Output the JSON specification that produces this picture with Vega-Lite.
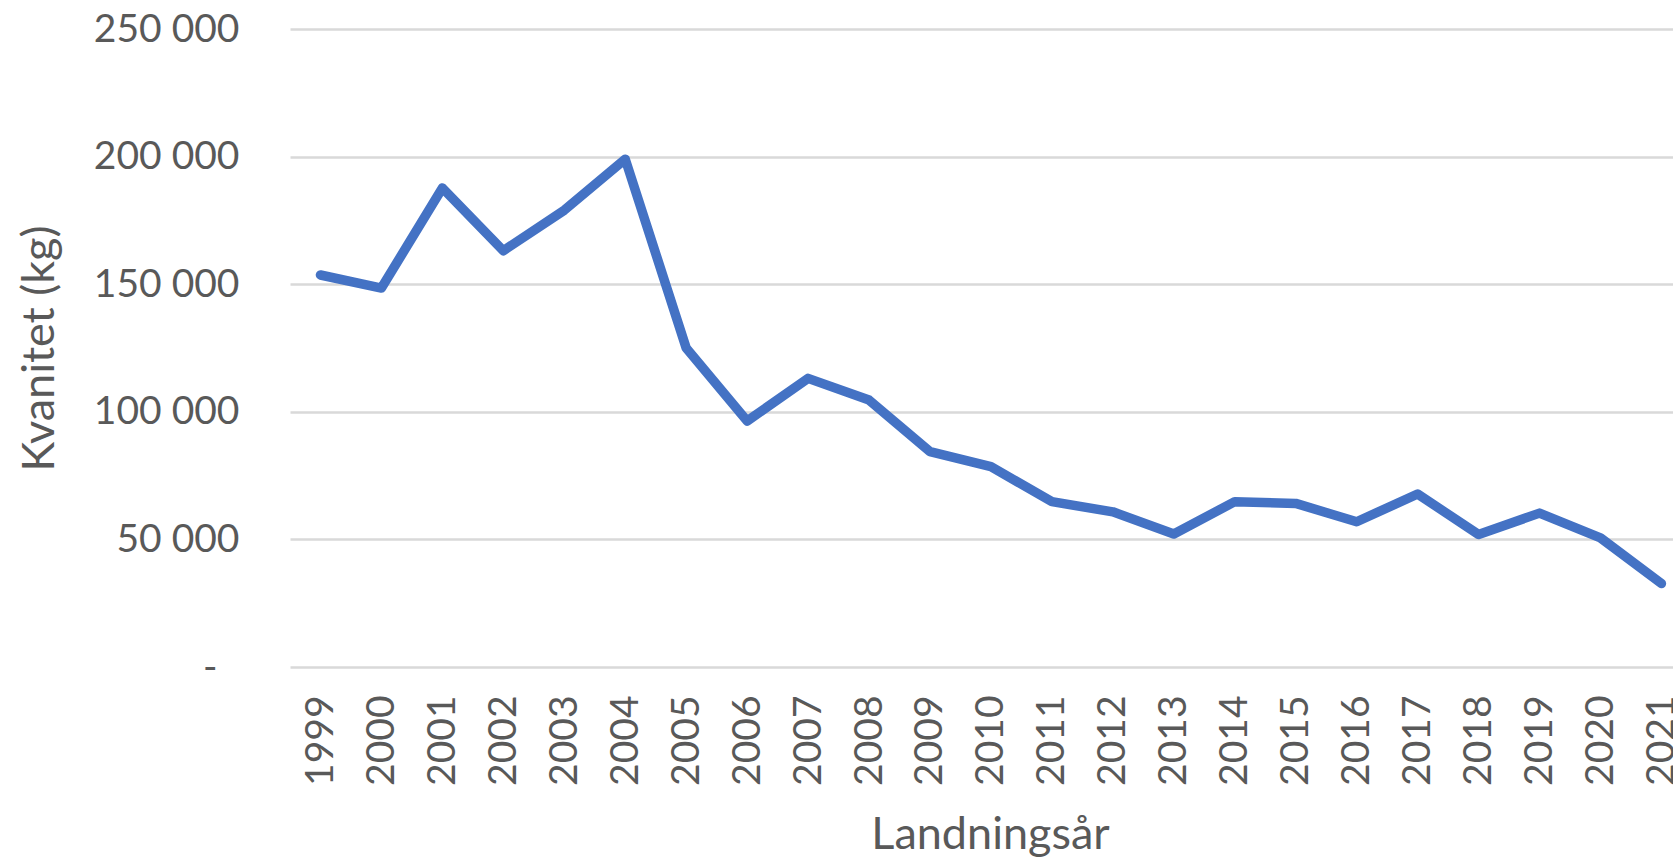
{
  "$schema": "https://vega.github.io/schema/vega-lite/v6.json",
  "autosize": "none",
  "width": 1383,
  "height": 638,
  "padding": {"left": 290, "top": 29, "right": 0, "bottom": 193},
  "background": "white",
  "config": {"view": {"stroke": null}},
  "data": {"values": [
    {"year": 1999, "kg": 153600},
    {"year": 2000, "kg": 148500},
    {"year": 2001, "kg": 187700},
    {"year": 2002, "kg": 163100},
    {"year": 2003, "kg": 179000},
    {"year": 2004, "kg": 199000},
    {"year": 2005, "kg": 125000},
    {"year": 2006, "kg": 96400},
    {"year": 2007, "kg": 113100},
    {"year": 2008, "kg": 104600},
    {"year": 2009, "kg": 84400},
    {"year": 2010, "kg": 78500},
    {"year": 2011, "kg": 64800},
    {"year": 2012, "kg": 60800},
    {"year": 2013, "kg": 52100},
    {"year": 2014, "kg": 64800},
    {"year": 2015, "kg": 64100},
    {"year": 2016, "kg": 56900},
    {"year": 2017, "kg": 67800},
    {"year": 2018, "kg": 51900},
    {"year": 2019, "kg": 60300},
    {"year": 2020, "kg": 50600},
    {"year": 2021, "kg": 32700}
  ]},
  "mark": {"type": "line", "color": "#4472c4", "strokeWidth": 9.5, "strokeCap": "round", "strokeJoin": "round"},
  "encoding": {
    "x": {
      "field": "year",
      "type": "quantitative",
      "scale": {"domain": [1998.5, 2021.19], "nice": false, "zero": false},
      "axis": {
        "values": [1999,2000,2001,2002,2003,2004,2005,2006,2007,2008,2009,2010,2011,2012,2013,2014,2015,2016,2017,2018,2019,2020,2021],
        "format": "d",
        "labelAngle": -90,
        "labelPadding": 28,
        "ticks": false,
        "tickSize": 0,
        "domain": false,
        "grid": false,
        "labelFont": "Lato",
        "labelFontSize": 39,
        "labelColor": "#595959",
        "labelOverlap": false,
        "labelFlush": false,
        "title": "Landningsår",
        "titleFont": "Lato",
        "titleFontSize": 45,
        "titleFontWeight": "normal",
        "titleColor": "#595959",
        "titleBaseline": "alphabetic",
        "titleAlign": "center",
        "titleX": 700,
        "titleY": 181
      }
    },
    "y": {
      "field": "kg",
      "type": "quantitative",
      "scale": {"domain": [0, 250000], "nice": false},
      "axis": {
        "values": [0, 50000, 100000, 150000, 200000, 250000],
        "labelExpr": "datum.value == 0 ? '-' : replace(format(datum.value, ','), ',', ' ')",
        "labelPadding": {"condition": {"test": "datum.value == 0", "value": 73}, "value": 51},
        "ticks": false,
        "tickSize": 0,
        "domain": false,
        "grid": true,
        "gridColor": "#d9d9d9",
        "gridWidth": 2.5,
        "labelFont": "Lato",
        "labelFontSize": 39,
        "labelColor": "#595959",
        "title": "Kvanitet (kg)",
        "titleFont": "Lato",
        "titleFontSize": 45,
        "titleFontWeight": "normal",
        "titleColor": "#595959",
        "titleAngle": -90,
        "titleBaseline": "alphabetic",
        "titleAlign": "center",
        "titleX": -237,
        "titleY": 319
      }
    }
  }
}
